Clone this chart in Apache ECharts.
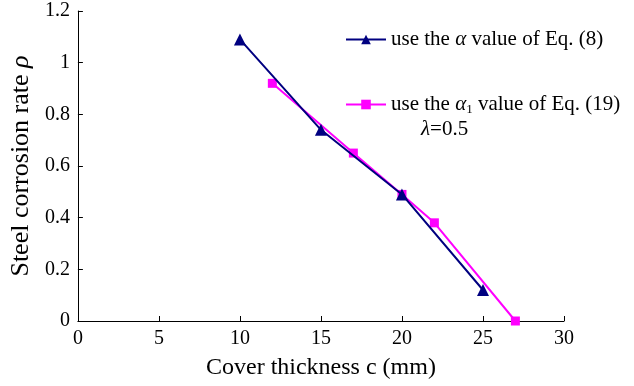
<!DOCTYPE html>
<html><head><meta charset="utf-8">
<script src="https://cdn.jsdelivr.net/npm/echarts@6/dist/echarts.min.js"></script>
<style>html,body{margin:0;padding:0;background:#fff}#c{width:634px;height:386px}</style>
</head><body><div id="c"></div>
<script>
const xTicks = [0, 5, 10, 15, 20, 25, 30];
const yTicks = [0, 0.2, 0.4, 0.6, 0.8, 1, 1.2];
const eq8X = [10, 15, 20, 25];
const eq8Y = [1.09, 0.74, 0.49, 0.12];
const eq19X = [12, 17, 20, 22, 27];
const eq19Y = [0.92, 0.65, 0.49, 0.38, 0];
const name8 = 'use the α value of Eq. (8)';
const name19 = 'use the α1 value of Eq. (19)';
const lambdaText = 'λ=0.5';

const FF = '"Liberation Serif","Times New Roman",serif';
const LS = 21;
const chart = echarts.init(document.getElementById('c'));
const legendText = {
  fontFamily: FF, fontSize: LS, color: '#000',
  rich: {
    a: {fontFamily: FF, fontSize: LS, fontStyle: 'italic', color: '#000'},
    s: {fontFamily: FF, fontSize: 13, color: '#000', padding: [11, 0, 0, 0]},
    t: {fontFamily: FF, fontSize: LS, color: '#000'}
  }
};
chart.setOption({
  animation: false,
  grid: {left: 77, right: 70, top: 11, bottom: 65, containLabel: false},
  xAxis: {
    type: 'value', min: 0, max: 30, interval: 5,
    name: 'Cover thickness c (mm)', nameLocation: 'middle', nameGap: 35,
    nameTextStyle: {fontFamily: FF, fontSize: 24, color: '#000'},
    axisLine: {show: true, lineStyle: {color: '#000', width: 1}},
    axisTick: {show: true, inside: true, length: 5, lineStyle: {color: '#000'}},
    axisLabel: {fontFamily: FF, fontSize: 20, color: '#000', margin: 8,
      formatter: v => xTicks.includes(v) ? String(v) : ''},
    splitLine: {show: false}
  },
  yAxis: {
    type: 'value', min: 0, max: 1.2, interval: 0.2,
    name: '{t|Steel corrosion rate }{a|ρ}', nameLocation: 'middle', nameGap: 43,
    nameRotate: 90,
    nameTextStyle: {fontFamily: FF, fontSize: 26, color: '#000',
      rich: {t: {fontFamily: FF, fontSize: 26, color: '#000'}, a: {fontFamily: FF, fontSize: 26, fontStyle: 'italic', color: '#000'}}},
    axisLine: {show: true, lineStyle: {color: '#000', width: 1}},
    axisTick: {show: true, inside: true, length: 5, lineStyle: {color: '#000'}},
    axisLabel: {fontFamily: FF, fontSize: 20, color: '#000', margin: 8,
      formatter: v => { const t = yTicks.find(y => Math.abs(y - v) < 1e-9); return t === undefined ? '' : String(t); }},
    splitLine: {show: false}
  },
  legend: [
    {data: [name8], left: 345, top: 29, padding: 0, itemWidth: 40, itemHeight: 12, itemGap: 6,
      textStyle: legendText,
      formatter: () => '{t|use the }{a|α}{t| value of Eq. (8)}'},
    {data: [name19], left: 345, top: 94, padding: 0, itemWidth: 40, itemHeight: 12, itemGap: 6,
      textStyle: legendText,
      formatter: () => '{t|use the }{a|α}{s|1}{t| value of Eq. (19)}'}
  ],
  graphic: [{
    type: 'text', left: 421, top: 119,
    style: {text: '{a|λ}{t|=0.5}', fontFamily: FF, fontSize: LS, fill: '#000',
      rich: {a: {fontFamily: FF, fontSize: LS, fontStyle: 'italic', fill: '#000'}, t: {fontFamily: FF, fontSize: LS, fill: '#000'}}}
  }],
  series: [
    {name: name8, type: 'line', data: eq8X.map((x, i) => [x, eq8Y[i]]),
      symbol: 'triangle', symbolSize: 12, z: 3,
      lineStyle: {color: '#000080', width: 2}, itemStyle: {color: '#000080'}},
    {name: name19, type: 'line', data: eq19X.map((x, i) => [x, eq19Y[i]]),
      symbol: 'rect', symbolSize: 9, z: 2,
      lineStyle: {color: '#FF00FF', width: 2}, itemStyle: {color: '#FF00FF'}}
  ]
});
</script></body></html>
